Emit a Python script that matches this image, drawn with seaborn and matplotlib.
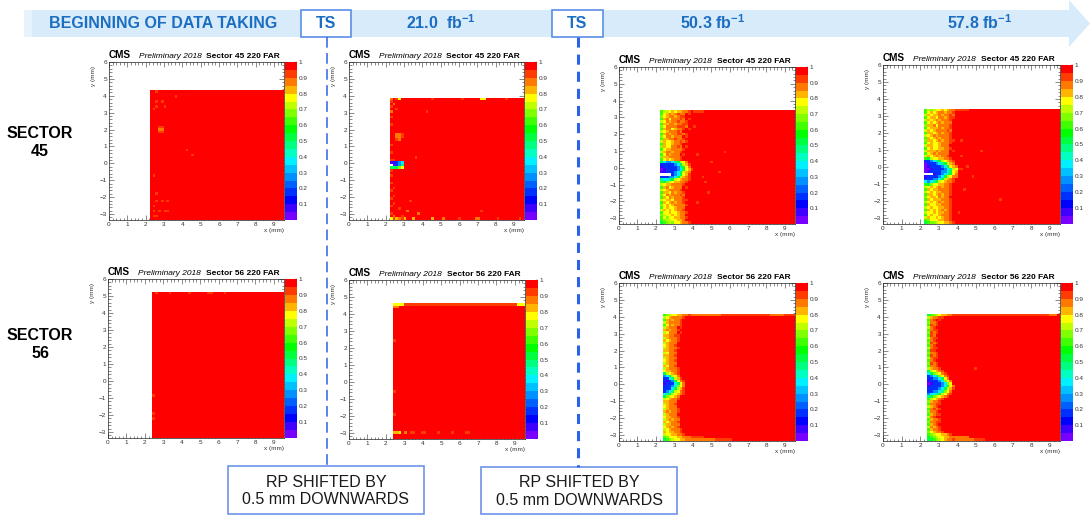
import numpy as np
import matplotlib
matplotlib.use('Agg')
import matplotlib.pyplot as plt
from matplotlib.colors import ListedColormap
from matplotlib.patches import Rectangle, Polygon
import seaborn as sns

sns.set_theme(style='white')
plt.rcParams['font.family'] = ['Liberation Sans', 'DejaVu Sans']
plt.rcParams['mathtext.fontset'] = 'custom'
plt.rcParams['mathtext.rm'] = 'Liberation Sans'
plt.rcParams['mathtext.bf'] = 'Liberation Sans:bold'
plt.rcParams['axes.unicode_minus'] = True

# ------------------------------------------------------------------ data
stage_labels = ['BEGINNING OF DATA TAKING', r'21.0  fb$^{\mathbf{-1}}$',
                r'50.3 fb$^{\mathbf{-1}}$', r'57.8 fb$^{\mathbf{-1}}$']
ts_label = 'TS'
sector_labels = ['SECTOR\n45', 'SECTOR\n56']
panel_titles = ['Sector 45 220 FAR', 'Sector 56 220 FAR']
shift_note = 'RP SHIFTED BY\n0.5 mm DOWNWARDS'

x_ticks = [0, 1, 2, 3, 4, 5, 6, 7, 8, 9]
y_ticks = [-3, -2, -1, 0, 1, 2, 3, 4, 5, 6]
cbar_ticks = [0.1, 0.2, 0.3, 0.4, 0.5, 0.6, 0.7, 0.8, 0.9, 1.0]
cbar_labels = ['0.1', '0.2', '0.3', '0.4', '0.5', '0.6', '0.7', '0.8', '0.9', '1']

# histogram binning (mm)
X_MIN, X_MAX, NX = 0.0, 9.55, 64
Y_MIN, Y_MAX, NY = -3.35, 6.0, 62

# ROOT-like 20-level palette (0 -> 1)
palette = ['#7800ff', '#4000ff', '#0000ff', '#0030ff', '#0060ff',
           '#0090ff', '#00c0ff', '#00f0ff', '#00ffc0', '#00ff80',
           '#00ff40', '#00ff00', '#40ff00', '#80ff00', '#c0ff00',
           '#ffff00', '#ffb400', '#ff7800', '#ff3c00', '#ff0000']

# efficiency codes used in the strip maps
eff_codes = list('RroOylLgGtcbBvp.')
eff_values = [0.98, 0.93, 0.88, 0.83, 0.78, 0.73, 0.68, 0.62, 0.53,
              0.46, 0.37, 0.27, 0.17, 0.08, 0.03, np.nan]

# sensitive area per panel: (x_left, y_bottom, y_top)
bounds_s45 = [(2.24, -3.36, 4.35), (2.24, -3.36, 3.90), (2.24, -3.36, 3.45), (2.24, -3.36, 3.45)]
bounds_s56 = [(2.39, -3.36, 5.25), (2.39, -3.36, 4.65), (2.39, -3.36, 4.20), (2.39, -3.36, 4.20)]

# near-edge strips (rows from the top edge down, columns from the left edge)
strip_s45_21 = [
    "oRryRR", "rRRRRR", "RoRRRR", "rRRRRR", "RRrRRR", "oRRRRR", "RRRRRR", "rRRRRR",
    "RRRRRR", "RRRRRR", "rRRRRR", "RRRRRR", "RRRRRR", "RRRRRR", "RRoorR", "RRoorR",
    "RRroRR", "RRRRRR", "rRRRRR", "RRRRRR", "RRRRRR", "rRRRRR", "RRRRRR", "RRRRRR",
    "rrRRRR", "vvBbcR", ".pBbtR", "GtGLyR", "rRRRRR", "RRRRRR", "rRRRRR", "RRRRRR",
    "RRRRRR", "rRRRRR", "RRRRRR", "RrRRRR", "rRRRRR", "RRRRRR", "RrRRRR", "rRRRRR",
    "RRRRRR", "RrRRRR", "rRRRRR", "RRRrRR", "RRRRRR", "rRRRRR", "RoRRrR", "yrOorO",
]
strip_s45_50 = [
    "gllyOyOOoorR", "gyOoOorooRrR", "LyOooOorrRRR", "gOoyoooroRrR", "lyoOooroorRR",
    "gOOooOoorrRR", "LyoooorrroRR", "gOooyOoorRrR", "lyOoooroRRRR", "gOoOoorrorRR",
    "LyooOoooRrRR", "gOOooroorRRR", "lOyyOoororRR", "gOyyOoorRRRR", "LOyyooroRrRR",
    "gyOOoooorRRR", "lOooOoorRRRR", "gyoOoooRrRRR", "LOOoooorRRRR", "gyOyOoorRRRR",
    "GcbbctGlyoRR", "BBBBBbcGlOrR", "vBBBBBbtGyoR", "pvBBBBbcGyOr", "vvBBBbcGlOoR",
    "....BbcGyOrR", "BBBbbcGlOorR", "tcctGlyOoorR", "gGLlyOOoorRR", "lyOOoooorRRR",
    "gOoyOoooRrRR", "lyOoooorRRRR", "gOOyoOoorRRR", "LyoOoooroRRR", "gOyoOooorRRR",
    "lyOOyooorrRR", "gOyOoOoorRRR", "LyOyOoooorRR", "gyOyyOoooRRR", "lOyOyOoorRRR",
    "gyyOyyOoorRR", "LlyyOyOooRRR", "gyLyyOOoorRR", "gLllyyOOoRRR", "GgLlLyyOoorR",
]
strip_s45_57 = [
    "glLlyyOyOoor", "gyOyOooOoorR", "lOyOOoOooroR", "gyOOyooOorrR", "lOyOoOooorRR",
    "gyOyOoOoooRR", "LOOoyoooorRR", "gyOOOoOoorRR", "lOyOooooroRR", "gOOyOoOoorRR",
    "lyOoOoooorRR", "gOyOoOooorRR", "LOOyOoOoorrR", "gyOyyOooorRR", "lOOyyOoooRRR",
    "gyOyyOOoorRR", "lOOOoOoooRrR", "gyOoOooooRRR", "lOyOoOoorRRR", "gGlyyOOoorRR",
    "BBbctGlyOorR", "pBBBbctGlOoR", "pvBBBBbcGyOo", "ppvBBBBbctly", "pvBBBBbbcGyO",
    "...vBBbctGyo", "vBBBBbcGlyoo", "BBBbbcGlOorR", "cbctGlyOoorR", "gGLyyOOoorRR",
    "lyOyOoOoorRR", "gOyOOoooorRR", "lyOyOOooorRR", "gOOyOoOoorRR", "LyOOyoOooRRR",
    "gOyOOOooorRR", "lyOyOoOoorRR", "gOyyOOooorRR", "lyOyyOOoorRR", "gOyOyOoOorRR",
    "lyyOyOOoorRR", "gyOyyOooorRR", "lOyyOyOoorRR", "gLyyyOOoorRR", "GgLLlyyOOorR",
]
strip_s56_50 = [
    "gLlyyOOoor", "lyOoooorRR", "gOoOoorRRR", "lOoooorRRR", "gyoOoorRRR",
    "lOoooRrRRR", "OoOoorRRRR", "lyoooRrRRR", "OOoorrRRRR", "lOooorRRRR",
    "OyOoorRRRR", "lOoooRRRRR", "yOoorRRRRR", "lOooorRRRR", "OOoorRRRRR",
    "lyoooRRRRR", "OOoorRRRRR", "lOoooRRRRR", "yOoorRRRRR", "lOoooRRRRR",
    "OyoorRRRRR", "lOooorRRRR", "yOOoorRRRR", "GlyOorRRRR", "bcGlyoRRRR",
    "BBctlOrRRR", "BvBbGyorRR", "vBBBcGyoRR", "BBBbcLyoRR", "BBBcGlOrRR",
    "BbctlyorRR", "ctGlyOorRR", "GLlyOoRRRR", "lyOoorRRRR", "OOoooRRRRR",
    "lOoorRRRRR", "yOoooRRRRR", "lOooorRRRR", "OoOoorRRRR", "lOoooRRRRR",
    "yOOoorRRRR", "lOoOooRRRR", "OyOoorRRRR", "lOOoooRRRR", "yOoOorRRRR",
    "lyOooorRRR", "OyOOoorRRR", "lyyOOoorRR", "gLyyyOOooo", "GgLlyyOOoo",
]
strip_s56_57 = [
    "GgLlyOOoor", "lOoorrRRRR", "gorRrRRRRR", "LoorRRRRRR", "grorRRRRRR",
    "lorRRRRRRR", "gorrRRRRRR", "LrorRRRRRR", "groRRRRRRR", "lorrRRRRRR",
    "gorRRRRRRR", "LrorRRRRRR", "gorRRRRRRR", "lorrRRRRRR", "grrRRRRRRR",
    "LoorRRRRRR", "grorRRRRRR", "lorrRRRRRR", "gorRRRRRRR", "LrorRRRRRR",
    "goorRRRRRR", "lOoorRRRRR", "GlyOorRRRR", "cGLlyorRRR", "BbctLyorRR",
    "BBbbcGyoRR", "vBBBbcLyoR", "pvBBBbcLyR", "vBBBBbcGyo", "BBBBbcGlOr",
    "BBbbctLyoR", "bcctGlyorR", "tGLlyOorRR", "glyOorRRRR", "LOoorRRRRR",
    "goorrRRRRR", "lOorRRRRRR", "gororRRRRR", "LoorRRRRRR", "gOorrRRRRR",
    "lorRRRRRRR", "gOoorRRRRR", "LoorrRRRRR", "gOorRRRRRR", "loOorRRRRR",
    "gOoorRRRRR", "LyOoorRRRR", "gLlyyOOorR", "GgLlyyOOoo", "GGgLlyOoor",
]

# isolated cells / horizontal runs: (x_from, x_to, y, efficiency)
spots_s45_begin = [(2.7, 2.9, 2.05, 0.88), (2.75, 2.85, 2.2, 0.90), (2.75, 2.85, 1.9, 0.92),
                   (2.6, 2.6, 3.6, 0.92), (2.85, 2.95, 3.6, 0.90), (3.6, 3.7, 3.9, 0.92),
                   (2.45, 2.45, 3.25, 0.93), (2.6, 2.6, 3.3, 0.90), (3.1, 3.1, 3.4, 0.93),
                   (2.45, 2.45, -0.7, 0.93), (2.6, 2.6, -1.75, 0.92), (2.55, 2.65, -2.15, 0.90),
                   (2.85, 2.85, -2.2, 0.90), (3.25, 3.25, -2.25, 0.92), (2.4, 2.5, -2.5, 0.90),
                   (2.45, 2.45, -2.85, 0.92), (2.75, 2.75, -2.75, 0.92), (3.1, 3.2, -2.75, 0.92),
                   (2.5, 2.6, -3.1, 0.90), (4.2, 4.2, 0.85, 0.92), (4.5, 4.5, 0.45, 0.93),
                   (2.55, 2.55, 4.28, 0.92)]
spots_s45_21 = [(3.5, 3.5, -3.27, 0.83), (4.5, 4.6, -3.27, 0.80), (5.2, 5.2, -3.27, 0.88),
                (6.1, 6.1, -3.27, 0.90), (7.0, 7.1, -3.27, 0.88), (8.1, 8.1, -3.27, 0.90),
                (9.3, 9.3, -3.27, 0.92), (3.8, 3.8, -2.98, 0.88), (4.5, 4.5, 3.82, 0.90),
                (7.2, 7.4, 3.82, 0.76), (6.2, 6.2, 3.82, 0.90), (8.6, 8.6, 3.82, 0.90),
                (4.3, 4.3, 3.1, 0.92), (3.2, 3.2, -2.8, 0.88), (7.2, 7.2, -2.8, 0.90),
                (3.6, 3.6, 0.4, 0.93), (3.3, 3.3, -2.2, 0.90)]
spots_s45_50 = [(4.5, 4.5, -0.5, 0.93), (5.0, 5.0, 0.3, 0.93), (4.2, 4.3, 0.8, 0.93),
                (5.5, 5.5, -0.3, 0.93), (5.8, 5.8, 0.9, 0.93), (4.7, 4.7, -0.9, 0.92),
                (4.1, 4.1, 2.4, 0.93), (4.3, 4.3, -2.0, 0.93), (4.9, 4.9, -1.5, 0.93),
                (4.05, 4.6, 3.36, 0.93)]
spots_s45_57 = [(4.3, 4.3, 0.7, 0.93), (4.9, 4.9, -0.6, 0.92), (4.6, 4.6, 0.1, 0.93),
                (5.3, 5.3, 0.9, 0.93), (6.3, 6.3, -1.9, 0.93), (4.4, 4.4, -1.3, 0.93),
                (4.1, 4.2, -0.1, 0.90), (4.05, 4.5, 3.36, 0.93), (4.1, 4.1, -2.6, 0.92),
                (4.2, 4.2, 1.6, 0.93)]
spots_s56_begin = [(2.55, 2.6, 5.17, 0.90), (3.3, 3.4, 5.17, 0.92), (4.4, 4.4, 5.17, 0.93),
                   (5.5, 5.6, 5.17, 0.93), (6.4, 6.4, 5.17, 0.93), (2.45, 2.45, -1.9, 0.93),
                   (2.45, 2.45, -2.2, 0.93), (2.45, 2.45, -0.9, 0.94)]
spots_s56_21 = [(2.4, 2.9, 4.57, 0.76), (3.0, 9.0, 4.57, 0.92), (9.2, 9.5, 4.57, 0.78),
                (2.4, 2.6, 4.42, 0.85), (2.4, 2.6, -2.9, 0.80), (2.7, 2.8, -2.9, 0.74),
                (3.0, 3.1, -2.9, 0.88), (3.3, 3.5, -2.9, 0.90), (4.0, 4.1, -2.9, 0.90),
                (4.8, 4.9, -2.9, 0.92), (6.4, 6.5, -2.9, 0.92), (5.6, 5.6, -2.9, 0.93),
                (2.45, 2.45, -0.6, 0.93), (2.45, 2.45, 2.5, 0.93), (2.45, 2.45, -1.9, 0.93)]
spots_s56_50 = [(3.9, 5.5, 4.115, 0.88), (5.6, 8.2, 4.115, 0.92), (8.3, 9.0, 4.115, 0.87),
                (9.1, 9.55, 4.115, 0.93), (3.9, 5.2, -3.28, 0.86), (5.3, 6.0, -3.28, 0.92),
                (3.9, 4.6, -3.13, 0.90)]
spots_s56_57 = [(3.9, 6.5, 4.115, 0.90), (6.6, 9.0, 4.115, 0.93), (9.1, 9.3, 4.115, 0.88),
                (3.9, 4.9, -3.28, 0.88), (3.9, 4.5, -3.13, 0.86), (5.0, 5.5, -3.28, 0.93),
                (5.0, 5.0, 1.0, 0.93)]

panel_bounds = bounds_s45 + bounds_s56
panel_strips = [[], strip_s45_21, strip_s45_50, strip_s45_57,
                [], [], strip_s56_50, strip_s56_57]
panel_spots = [spots_s45_begin, spots_s45_21, spots_s45_50, spots_s45_57,
               spots_s56_begin, spots_s56_21, spots_s56_50, spots_s56_57]

# ------------------------------------------------------------------ build maps
LEVEL = dict(zip(eff_codes, eff_values))
DX = (X_MAX - X_MIN) / NX
DY = (Y_MAX - Y_MIN) / NY
xc = X_MIN + (np.arange(NX) + 0.5) * DX
yc = Y_MIN + (np.arange(NY) + 0.5) * DY


def efficiency_map(bounds, strip, spots):
    x_left, y_bot, y_top = bounds
    inside = (xc[None, :] > x_left) & (yc[:, None] > y_bot) & (yc[:, None] < y_top)
    z = np.where(inside, LEVEL['R'], np.nan)
    i0 = int(np.argmax(xc > x_left))
    jt = int(np.nonzero(yc < y_top)[0].max())
    for r, row in enumerate(strip):
        j = jt - r
        if j < 0:
            break
        for c, ch in enumerate(row):
            if i0 + c < NX:
                z[j, i0 + c] = LEVEL[ch]
    for x0, x1, y, v in spots:
        j = int((y - Y_MIN) // DY)
        a = int((x0 - X_MIN) // DX)
        b = min(int((x1 - X_MIN) // DX), NX - 1)
        seg = z[j, a:b + 1]
        z[j, a:b + 1] = np.where(np.isnan(seg), np.nan, v)
    return z


maps = [efficiency_map(b, s, p) for b, s, p in zip(panel_bounds, panel_strips, panel_spots)]
cmap = ListedColormap(palette)

# ------------------------------------------------------------------ figure
W, H = 1090, 515
fig = plt.figure(figsize=(W / 100, H / 100), dpi=100)
fig.patch.set_facecolor('white')


def rect(l, r, t, b):
    return [l / W, 1 - b / H, (r - l) / W, (b - t) / H]


panel_px = [(109, 284, 62, 220), (349, 524, 62, 220), (619, 795, 67, 224), (883, 1060, 65, 224),
            (108, 284, 279, 438), (349, 525, 280, 439), (619, 795, 283, 441), (883, 1060, 283, 441)]

tick_col = '#333333'
for p, (l, r, t, b) in enumerate(panel_px):
    ax = fig.add_axes(rect(l, r, t, b))
    cax = fig.add_axes(rect(r + 1, r + 13, t, b))
    sns.heatmap(maps[p][::-1], ax=ax, cbar_ax=cax, cmap=cmap, vmin=0, vmax=1,
                xticklabels=False, yticklabels=False)
    ax.set_xlim(0, NX)
    ax.set_ylim(NY, 0)
    ax.set_xticks([(v - X_MIN) / DX for v in x_ticks])
    ax.set_xticklabels([str(v) for v in x_ticks], rotation=0)
    ax.set_yticks([(Y_MAX - v) / DY for v in y_ticks])
    ax.set_yticklabels([str(v).replace('-', '\u2212') for v in y_ticks], rotation=0)
    ax.set_xticks([(v - X_MIN) / DX for v in np.arange(0.2, 9.55, 0.2)], minor=True)
    ax.set_yticks([(Y_MAX - v) / DY for v in np.arange(-3.2, 6.0, 0.2)], minor=True)
    ax.tick_params(which='both', direction='in', top=True, right=True, bottom=True, left=True,
                   labelsize=4.6, labelcolor=tick_col, color=tick_col, width=0.4, pad=1.5)
    ax.tick_params(which='major', length=3.5)
    ax.tick_params(which='minor', length=1.8)
    for s in ax.spines.values():
        s.set_visible(True)
        s.set_linewidth(0.5)
        s.set_color('#222222')
    ax.set_xlabel('')
    ax.set_ylabel('')
    ax.text(1.0, -0.052, 'x (mm)', transform=ax.transAxes, ha='right', va='top',
            fontsize=4.6, color=tick_col)
    ax.text(-0.088, 0.975, 'y (mm)', transform=ax.transAxes, ha='center', va='top',
            rotation=90, fontsize=4.6, color=tick_col)
    # title
    title = panel_titles[0] if p < 4 else panel_titles[1]
    ax.text(0.0, 1.025, 'CMS', transform=ax.transAxes, ha='left', va='baseline',
            fontsize=7.2, fontweight='bold', color='black')
    ax.text(0.17, 1.025, 'Preliminary 2018', transform=ax.transAxes, ha='left', va='baseline',
            fontsize=6.0, style='italic', color='black')
    ax.text(0.555, 1.025, title, transform=ax.transAxes, ha='left', va='baseline',
            fontsize=6.0, fontweight='bold', color='black')
    # colour bar
    cb = ax.collections[0].colorbar
    cb.set_ticks(cbar_ticks)
    cb.set_ticklabels(cbar_labels)
    cb.outline.set_linewidth(0)
    cax.tick_params(labelsize=4.6, labelcolor=tick_col, length=1.5, width=0.3,
                    direction='in', pad=1.2, color='#555555')

# ------------------------------------------------------------------ overlay (timeline, notes)
ov = fig.add_axes([0, 0, 1, 1], zorder=10)
ov.set_xlim(0, W)
ov.set_ylim(H, 0)
ov.axis('off')

blue_txt = '#1b6ec2'
ov.add_patch(Polygon([(24, 10), (1069, 10), (1069, 0), (1090, 23.5), (1069, 47), (1069, 37), (24, 37)],
                     closed=True, facecolor='#d8ebfa', edgecolor='none'))
ov.add_patch(Rectangle((24, 10), 8, 27, facecolor='#e6f2fc', edgecolor='none'))

ov.text(163, 24, stage_labels[0], ha='center', va='center', fontsize=11.5,
        fontweight='bold', color=blue_txt)
ov.text(441, 23, stage_labels[1], ha='center', va='center', fontsize=11.5,
        fontweight='bold', color=blue_txt)
ov.text(713, 23, stage_labels[2], ha='center', va='center', fontsize=11.5,
        fontweight='bold', color=blue_txt)
ov.text(980, 23, stage_labels[3], ha='center', va='center', fontsize=11.5,
        fontweight='bold', color=blue_txt)

line_blue = '#2b63e8'
ov.plot([327, 327], [37, 466], color=line_blue, lw=1.1, dashes=(7, 3.5))
ov.plot([577.5, 577.5], [37, 467], color=line_blue, lw=2.2, dashes=(3.3, 2.3))

for (bx, bw) in [(301, 50), (552, 51)]:
    ov.add_patch(Rectangle((bx, 9.5), bw, 27.5, facecolor='white', edgecolor='#5b8ee6', lw=1.2))
    ov.text(bx + bw / 2, 24, ts_label, ha='center', va='center', fontsize=11.5,
            fontweight='bold', color=blue_txt)

for (bx, by, bw, bh) in [(228, 466, 196, 48), (481, 467, 196, 47)]:
    ov.add_patch(Rectangle((bx, by), bw, bh, facecolor='white', edgecolor='#6d94ea', lw=1.2))
    ov.text(bx + bw / 2, by + bh / 2 + 1, shift_note, ha='center', va='center',
            fontsize=11.5, linespacing=1.2, color='#1a1a1a')

ov.text(40, 142, sector_labels[0], ha='center', va='center', fontsize=11.5,
        fontweight='bold', linespacing=1.25, color='black')
ov.text(40, 345, sector_labels[1], ha='center', va='center', fontsize=11.5,
        fontweight='bold', linespacing=1.25, color='black')

fig.savefig('out.png', dpi=100, facecolor='white')
